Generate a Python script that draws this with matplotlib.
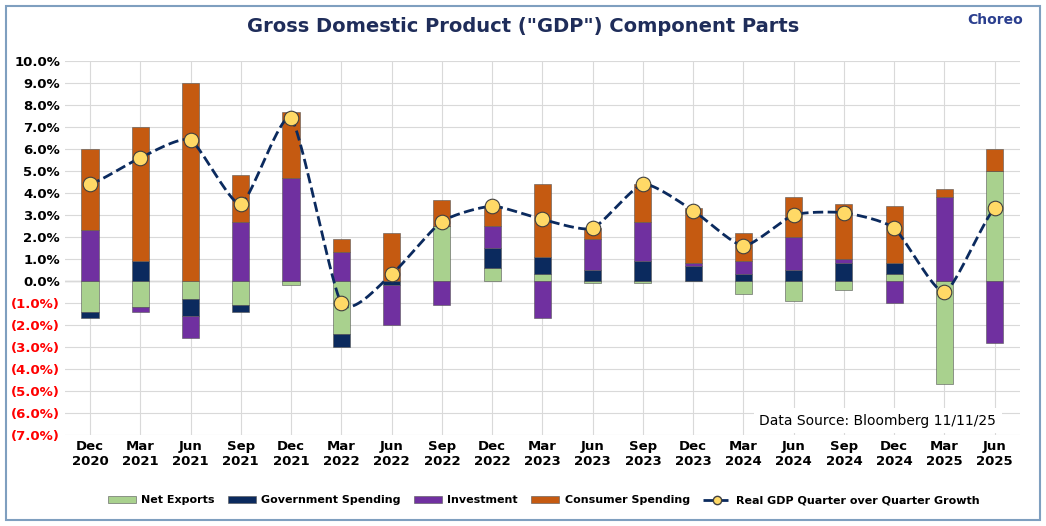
import numpy as np
import matplotlib.pyplot as plt
from matplotlib.patches import Rectangle
from matplotlib.lines import Line2D

quarters = ["Dec\n2020", "Mar\n2021", "Jun\n2021", "Sep\n2021", "Dec\n2021", "Mar\n2022", "Jun\n2022",
            "Sep\n2022", "Dec\n2022", "Mar\n2023", "Jun\n2023", "Sep\n2023", "Dec\n2023", "Mar\n2024",
            "Jun\n2024", "Sep\n2024", "Dec\n2024", "Mar\n2025", "Jun\n2025"]
net_exports = [-1.4, -1.2, -0.8, -1.1, -0.2, -2.4, 0.0, 2.5, 0.6, 0.3, -0.1, -0.1, 0.0, -0.6, -0.9, -0.4, 0.3, -4.7, 5.0]
government = [-0.3, 0.9, -0.8, -0.3, 0.0, -0.6, -0.2, 0.0, 0.9, 0.8, 0.5, 0.9, 0.7, 0.3, 0.5, 0.8, 0.5, 0.0, 0.0]
investment = [2.3, -0.2, -1.0, 2.7, 4.7, 1.3, -1.8, -1.1, 1.0, -1.7, 1.4, 1.8, 0.1, 0.6, 1.5, 0.2, -1.0, 3.8, -2.8]
consumer = [3.7, 6.1, 9.0, 2.1, 3.0, 0.6, 2.2, 1.2, 0.9, 3.3, 0.5, 1.7, 2.5, 1.3, 1.8, 2.5, 2.6, 0.4, 1.0]
real_gdp = [4.4, 5.6, 6.4, 3.5, 7.4, -1.0, 0.3, 2.7, 3.4, 2.8, 2.4, 4.4, 3.2, 1.6, 3.0, 3.1, 2.4, -0.5, 3.3]

series = [("Net Exports", net_exports, "#a9d18e"),
          ("Government Spending", government, "#0b2a5e"),
          ("Investment", investment, "#7030a0"),
          ("Consumer Spending", consumer, "#c55a11")]

fig = plt.figure(figsize=(10.46, 5.26), dpi=100)
fig.patches.append(Rectangle((0.006, 0.012), 0.988, 0.976, transform=fig.transFigure,
                             fill=False, edgecolor="#7f9fbf", linewidth=1.5))
ax = fig.add_axes([0.062, 0.173, 0.913, 0.711])
x = np.arange(len(quarters))
pos = np.zeros(len(x))
neg = np.zeros(len(x))
for name, vals, col in series:
    v = np.array(vals)
    bottom = np.where(v >= 0, pos, neg)
    ax.bar(x, v, 0.34, bottom=bottom, color=col, edgecolor="#555555", linewidth=0.4, label=name, zorder=2)
    pos += np.where(v >= 0, v, 0)
    neg += np.where(v < 0, v, 0)

# smooth curve through the GDP points (cardinal spline, drawing only)
g = np.array(real_gdp)
px = np.concatenate([[x[0] - 1], x, [x[-1] + 1]])
py = np.concatenate([[g[0]], g, [g[-1]]])
cx, cy = [], []
k = 0.3
for i in range(1, len(px) - 2):
    t = np.linspace(0, 1, 20)
    h00 = 2 * t**3 - 3 * t**2 + 1
    h10 = t**3 - 2 * t**2 + t
    h01 = -2 * t**3 + 3 * t**2
    h11 = t**3 - t**2
    for arr, out in ((px, cx), (py, cy)):
        m1 = k * (arr[i + 1] - arr[i - 1])
        m2 = k * (arr[i + 2] - arr[i])
        out.extend(h00 * arr[i] + h10 * m1 + h01 * arr[i + 1] + h11 * m2)
ax.plot(cx, cy, "--", color="#0b2a5e", linewidth=2, zorder=3)
ax.scatter(x, g, s=110, color="#ffd966", edgecolor="#404040", linewidth=0.8, zorder=4)

ax.set_xlim(-0.5, len(x) - 0.5)
ax.set_ylim(-7, 10)
ticks = np.arange(-7, 11, 1)
ax.set_yticks(ticks)
ax.set_yticklabels([f"{t:.1f}%" if t >= 0 else f"({-t:.1f}%)" for t in ticks], fontweight="bold", fontsize=9.5)
for lbl, t in zip(ax.get_yticklabels(), ticks):
    lbl.set_color("red" if t < 0 else "black")
ax.set_xticks(x)
ax.set_xticklabels(quarters, fontweight="bold", fontsize=9.5)
ax.tick_params(length=0)
ax.grid(axis="both", color="#d9d9d9", linewidth=0.8, zorder=0)
ax.axhline(0, color="#bfbfbf", linewidth=1, zorder=1)
for s in ax.spines.values():
    s.set_visible(False)
ax.text(0.975, 0.02, "Data Source: Bloomberg 11/11/25", transform=ax.transAxes, ha="right",
        va="bottom", fontsize=10, bbox=dict(facecolor="white", edgecolor="none"))
fig.text(0.5, 0.94, 'Gross Domestic Product ("GDP") Component Parts', ha="center",
         fontsize=14, fontweight="bold", color="#1f2d5a")
fig.text(0.978, 0.955, "Choreo", ha="right", fontsize=10, fontweight="bold", color="#2b3f8f")
handles, labels = ax.get_legend_handles_labels()
handles.append(Line2D([], [], ls="--", marker="o", color="#0b2a5e", markerfacecolor="#ffd966",
                      markeredgecolor="#404040", lw=2))
labels.append("Real GDP Quarter over Quarter Growth")
fig.legend(handles, labels, loc="lower center", bbox_to_anchor=(0.52, 0.02), ncol=5, frameon=False,
           prop={"weight": "bold", "size": 8}, handlelength=2.5, handletextpad=0.5, columnspacing=1.2)
fig.savefig("out.png", dpi=100)
